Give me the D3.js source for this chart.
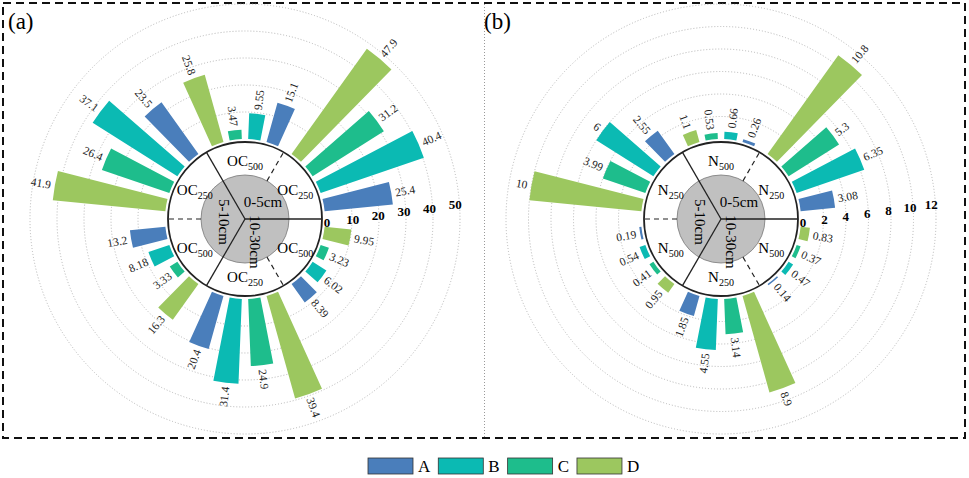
<!DOCTYPE html>
<meta charset="utf-8">
<script src="https://d3js.org/d3.v7.min.js"></script>
<title>Radial bars OC / N</title>
<style>
body { margin: 0; background: #fff; }
svg { font-family: "Liberation Serif", "Times New Roman", serif; }
</style>
<svg width="969" height="478"></svg>
<script>

// groups go clockwise from -30deg (north = 0)
var groupDepth = ["0-5cm", "0-5cm", "10-30cm", "10-30cm", "5-10cm", "5-10cm"];
var groupSize = ["500", "250", "500", "250", "500", "250"];
var depthNames = ["0-5cm", "10-30cm", "5-10cm"];

var seriesNames = ["A", "B", "C", "D"];
var seriesColors = ["#4a7ebb", "#0bbab3", "#1ebd8c", "#9cc75f"];
// bar order inside a group, clockwise
var barOrder = ["D", "C", "B", "A"];

// panel (a) OC
var ocA = [15.1, 25.4, 8.39, 20.4, 13.2, 23.5];
var ocB = [9.55, 40.4, 6.02, 31.4, 8.18, 37.1];
var ocC = [3.47, 31.2, 3.23, 24.9, 3.33, 26.4];
var ocD = [25.8, 47.9, 9.95, 39.4, 16.3, 41.9];
var ocTicks = [0, 10, 20, 30, 40, 50];

// panel (b) N
var nA = [0.26, 3.08, 0.14, 1.85, 0.19, 2.55];
var nB = [0.66, 6.35, 0.47, 4.55, 0.54, 6];
var nC = [0.53, 5.3, 0.37, 3.14, 0.41, 3.99];
var nD = [1.1, 10.8, 0.83, 8.9, 0.95, 10];
var nTicks = [0, 2, 4, 6, 8, 10, 12];

var svg = d3.select("svg");
var color = d3.scaleOrdinal().domain(seriesNames).range(seriesColors);
var rad = a => a * Math.PI / 180;

var ringR = 77, coreR = 44;
var slot = 360 / 27, barW = slot * 0.66;

// frame
svg.append("rect")
    .attr("x", 3).attr("y", 3).attr("width", 962).attr("height", 435)
    .attr("fill", "none").attr("stroke", "#111").attr("stroke-width", 2)
    .attr("stroke-dasharray", "8,5");
svg.append("line")
    .attr("x1", 484.5).attr("x2", 484.5).attr("y1", 4).attr("y2", 437)
    .attr("stroke", "#999").attr("stroke-width", 1).attr("stroke-dasharray", "1,2");

function drawPanel(cx, cy, tag, prefix, vals, ticks) {
  var g = svg.append("g").attr("transform", "translate(" + cx + "," + cy + ")");
  var r = d3.scaleLinear().domain([0, d3.max(ticks)]).range([80, 215]);

  svg.append("text").attr("x", cx - 237).attr("y", 29)
      .attr("font-size", 23).text(tag);

  // grid
  g.selectAll("circle.grid")
    .data(ticks.slice(1))
    .join("circle")
      .attr("class", "grid")
      .attr("r", d => r(d))
      .attr("fill", "none").attr("stroke", "#b5b5b5")
      .attr("stroke-width", 1).attr("stroke-dasharray", "1,2");

  // bars
  var bars = [];
  groupDepth.forEach(function(dep, gi) {
    var center = gi * 60;
    barOrder.forEach(function(s, j) {
      var a = center + (j - 1.5) * slot;
      bars.push({s: s, v: vals[s][gi], a: a});
    });
  });

  var arc = d3.arc()
      .innerRadius(r(0))
      .outerRadius(d => r(d.v))
      .startAngle(d => rad(d.a - barW / 2))
      .endAngle(d => rad(d.a + barW / 2));

  g.selectAll("path.bar")
    .data(bars)
    .join("path")
      .attr("class", "bar")
      .attr("d", arc)
      .attr("fill", d => color(d.s));

  // value labels
  var lab = g.selectAll("g.lab")
    .data(bars)
    .join("g")
      .attr("class", "lab")
      .attr("transform", d => "rotate(" + (d.a - 90) + ") translate(" + (r(d.v) + 4) + ",0)");
  lab.append("text")
      .attr("font-size", 11.5).attr("fill", "#222").attr("dy", "0.35em")
      .attr("transform", d => { var a = (d.a + 360) % 360; return a > 180 ? "rotate(180)" : null; })
      .attr("text-anchor", d => { var a = (d.a + 360) % 360; return a > 180 ? "end" : "start"; })
      .text(d => String(d.v));

  // centre ring
  g.append("circle").attr("r", ringR)
      .attr("fill", "#fff").attr("stroke", "#222").attr("stroke-width", 1.8);
  g.append("circle").attr("r", coreR)
      .attr("fill", "#c0c0c0").attr("stroke", "#777").attr("stroke-width", 0.8);

  [-30, 90, 210].forEach(function(a) {
    g.append("line")
        .attr("x2", ringR * Math.sin(rad(a))).attr("y2", -ringR * Math.cos(rad(a)))
        .attr("stroke", "#222").attr("stroke-width", 1.3);
  });
  [30, 150, 270].forEach(function(a) {
    g.append("line")
        .attr("x1", coreR * Math.sin(rad(a))).attr("y1", -coreR * Math.cos(rad(a)))
        .attr("x2", ringR * Math.sin(rad(a))).attr("y2", -ringR * Math.cos(rad(a)))
        .attr("stroke", "#222").attr("stroke-width", 1.2).attr("stroke-dasharray", "5,4");
  });

  // depth labels
  g.append("text").attr("x", 18).attr("y", -12).attr("text-anchor", "middle")
      .attr("font-size", 15).text(depthNames[0]);
  g.append("text").attr("transform", "translate(5,23) rotate(90)").attr("text-anchor", "middle")
      .attr("font-size", 15).text(depthNames[1]);
  g.append("text").attr("transform", "translate(-26,3) rotate(90)").attr("text-anchor", "middle")
      .attr("font-size", 15).text(depthNames[2]);

  // fraction labels
  groupSize.forEach(function(sz, gi) {
    var a = gi * 60, rr = 58;
    var t = g.append("text")
        .attr("x", rr * Math.sin(rad(a))).attr("y", -rr * Math.cos(rad(a)) + 5)
        .attr("text-anchor", "middle").attr("font-size", 15);
    t.append("tspan").text(prefix);
    t.append("tspan").attr("dy", 4).attr("font-size", 10).text(sz);
  });

  // radial tick labels
  g.selectAll("text.tick")
    .data(ticks)
    .join("text")
      .attr("class", "tick")
      .attr("x", d => r(0) + 2 + (r(d) - r(0)) * 0.95)
      .attr("y", d => 8 - (r(d) - r(0)) * 0.13)
      .attr("text-anchor", "middle").attr("font-size", 13).attr("font-weight", "bold")
      .text(d => d);
}

drawPanel(245, 219, "(a)", "OC", {A: ocA, B: ocB, C: ocC, D: ocD}, ocTicks);
drawPanel(721, 219, "(b)", "N", {A: nA, B: nB, C: nC, D: nD}, nTicks);

// legend
var leg = svg.append("g").attr("transform", "translate(368,458)");
var lx = 0;
seriesNames.forEach(function(s) {
  leg.append("rect").attr("x", lx).attr("y", 0).attr("width", 45).attr("height", 16)
      .attr("fill", color(s)).attr("stroke", "#333").attr("stroke-width", 0.8);
  var t = leg.append("text").attr("x", lx + 50).attr("y", 14).attr("font-size", 17).text(s);
  lx += 50 + t.node().getComputedTextLength() + 8;
});
</script>
